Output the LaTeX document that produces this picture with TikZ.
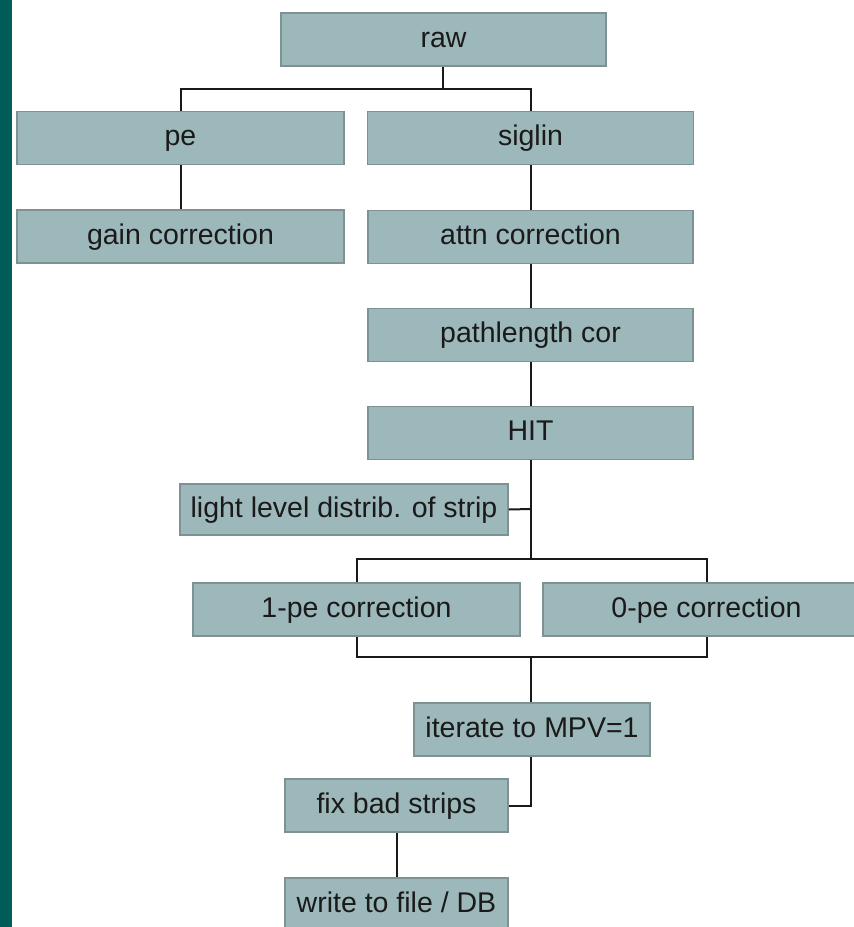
\documentclass[tikz,border=0pt]{standalone}
\usepackage{fontspec}
\setmainfont{Liberation Sans}
\definecolor{boxfill}{HTML}{9DB8BA}
\definecolor{boxline}{HTML}{7E9294}
\definecolor{strip}{HTML}{005C58}
\definecolor{txt}{HTML}{1A1A1A}
\begin{document}
\begin{tikzpicture}[x=1pt,y=-1pt,
  box/.style={draw=boxline, line width=1.5pt, fill=boxfill, inner sep=0pt,
    text=txt, font=\fontsize{28.5}{30}\selectfont, text height=20pt, text depth=5pt,
    minimum height=53pt, anchor=center},
  conn/.style={draw=black!90, line width=2pt}]
\useasboundingbox (0,0) rectangle (854,927);
\begin{scope}
\clip (0,0) rectangle (854,927);
\fill[white] (0,0) rectangle (854,927);
\fill[strip] (0,0) rectangle (12,927);
\node[box, minimum width=325pt] (raw) at (443.5,39.5) {raw};
\node[box, minimum width=327pt] (pe) at (180.5,138) {pe};
\node[box, minimum width=326pt] (siglin) at (530.5,138) {siglin};
\node[box, minimum width=327pt] (gain) at (180.5,236.5) {gain correction};
\node[box, minimum width=325pt] (attn) at (530.5,237) {attn correction};
\node[box, minimum width=325pt] (path) at (530.5,335) {pathlength cor};
\node[box, minimum width=325pt] (hit) at (530.5,433) {HIT};
\node[box, minimum width=328pt, minimum height=51pt] (light) at (344,509.5) {light level distrib. of strip};
\node[box, minimum width=327pt] (onepe) at (356.5,609.5) {1-pe correction};
\node[box, minimum width=327pt] (zerope) at (706.5,609.5) {0-pe correction};
\node[box, minimum width=236pt] (iter) at (532,729.5) {iterate to MPV=1};
\node[box, minimum width=223pt] (fix) at (396.5,805.5) {fix bad strips};
\node[box, minimum width=223pt] (write) at (396.5,904.5) {write to file / DB};
\coordinate (j1) at (443,89);
\coordinate (j2) at (531,559);
\coordinate (j3) at (531,657);
\coordinate (j4) at (531,509);
\coordinate (j5) at (531,806);
\end{scope}
\draw[conn] (raw.south -| j1) -- (j1);
\draw[conn] (pe.north) |- (j1) -| (siglin.north);
\draw[conn] (pe.south) -- (gain.north);
\draw[conn] (siglin.south) -- (attn.north);
\draw[conn] (attn.south) -- (path.north);
\draw[conn] (path.south) -- (hit.north);
\draw[conn] (hit.south -| j2) -- (j2);
\draw[conn] (light.east) -- (j4);
\draw[conn] (onepe.north) |- (j2) -| (zerope.north);
\draw[conn] (onepe.south) |- (j3) -| (zerope.south);
\draw[conn] (j3) -- (iter.north -| j3);
\draw[conn] (iter.south -| j5) -- (j5) -- (fix.east |- j5);
\draw[conn] (fix.south) -- (write.north);
\end{tikzpicture}
\end{document}
